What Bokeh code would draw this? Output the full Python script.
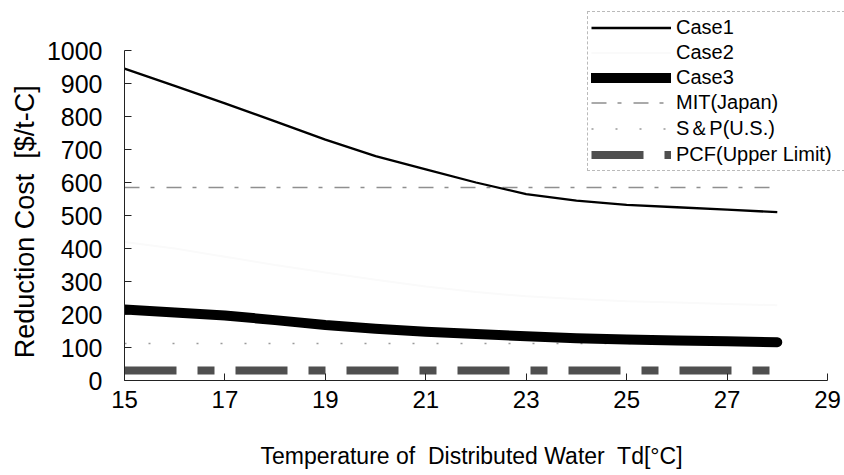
from bokeh.plotting import figure
from bokeh.models import Range1d, FixedTicker, Legend, LegendItem, ColumnDataSource
from bokeh.embed import file_html
from bokeh.resources import INLINE

# ---- data ----
temps = [15, 16, 17, 18, 19, 20, 21, 22, 23, 24, 25, 26, 27, 28]
case1 = [945, 893, 840, 785, 730, 680, 640, 600, 565, 545, 532, 525, 518, 510]
case2 = [420, 400, 375, 350, 327, 305, 285, 268, 255, 247, 240, 236, 232, 228]
case3 = [215, 206, 197, 183, 168, 157, 148, 141, 134, 128, 124, 121, 119, 116]
mit_japan = [585] * len(temps)
sp_us = [112] * len(temps)
pcf_upper = [30] * len(temps)

x_ticks = [15, 17, 19, 21, 23, 25, 27, 29]
y_ticks = [0, 100, 200, 300, 400, 500, 600, 700, 800, 900, 1000]

FONT = "Liberation Sans"

# frame is extended above and to the right so the legend is not clipped;
# the axis lines are limited to the tick range with `bounds`
FRAME_TOP, FRAME_BOTTOM, FRAME_LEFT, FRAME_RIGHT = 10, 380, 124, 844
AXIS_TOP_PX, AXIS_RIGHT_PX = 50, 827
y_end = y_ticks[-1] * (FRAME_BOTTOM - FRAME_TOP) / (FRAME_BOTTOM - AXIS_TOP_PX)
x_end = x_ticks[0] + (x_ticks[-1] - x_ticks[0]) * (FRAME_RIGHT - FRAME_LEFT) / (AXIS_RIGHT_PX - FRAME_LEFT)

p = figure(width=844, height=475, output_backend="svg", toolbar_location=None,
           x_range=Range1d(x_ticks[0], x_end), y_range=Range1d(y_ticks[0], y_end),
           min_border_left=FRAME_LEFT, min_border_right=0, min_border_top=FRAME_TOP,
           min_border_bottom=475 - FRAME_BOTTOM)
p.outline_line_color = None
p.grid.visible = False
p.background_fill_color = "white"
p.border_fill_color = "white"

src = ColumnDataSource(dict(t=temps, c1=case1, c2=case2, c3=case3,
                            mit=mit_japan, sp=sp_us, pcf=pcf_upper))

r_pcf = p.line("t", "pcf", source=src, line_color="#4f4f4f", line_width=8,
               line_dash="52 21 17 21", line_cap="butt")
r_sp = p.line("t", "sp", source=src, line_color="#9a9a9a", line_width=1.5,
              line_dash="2 22")
r_mit = p.line("t", "mit", source=src, line_color="#8f8f8f", line_width=1.6,
               line_dash="15 11 4 12")
r_c2 = p.line("t", "c2", source=src, line_color="#fafafa", line_width=2)
r_c3 = p.line("t", "c3", source=src, line_color="black", line_width=10,
              line_cap="round", line_join="round")
r_c1 = p.line("t", "c1", source=src, line_color="black", line_width=2.3)

# axes
for ax in (p.xaxis[0], p.yaxis[0]):
    ax.major_tick_in = 7
    ax.major_tick_out = 0
    ax.minor_tick_line_color = None
    ax.axis_line_color = "#222222"
    ax.major_tick_line_color = "#222222"
    ax.major_label_text_font = FONT
    ax.major_label_text_color = "black"
    ax.axis_label_text_font = FONT
    ax.axis_label_text_font_style = "normal"
    ax.axis_label_text_color = "black"

p.xaxis.bounds = (x_ticks[0], x_ticks[-1])
p.yaxis.bounds = (y_ticks[0], y_ticks[-1])
p.xaxis.ticker = FixedTicker(ticks=x_ticks)
p.yaxis.ticker = FixedTicker(ticks=y_ticks)
p.xaxis.major_label_text_font_size = "24px"
p.yaxis.major_label_text_font_size = "25px"
p.xaxis.major_label_standoff = 10
p.yaxis.major_label_standoff = 22
# trailing no-break spaces keep the labels centred on the axis lines, not the larger frame
p.xaxis.axis_label = "Temperature of\u00a0 Distributed Water\u00a0 Td[\u00b0C]" + "\u00a0" * 4
p.yaxis.axis_label = "Reduction Cost\u00a0 [$/t-C]" + "\u00a0" * 7
p.xaxis.axis_label_text_font_size = "23px"
p.yaxis.axis_label_text_font_size = "27px"
p.xaxis.axis_label_standoff = 32
p.yaxis.axis_label_standoff = 4

legend = Legend(items=[
    LegendItem(label="Case1", renderers=[r_c1]),
    LegendItem(label="Case2", renderers=[r_c2]),
    LegendItem(label="Case3", renderers=[r_c3]),
    LegendItem(label="MIT(Japan)", renderers=[r_mit]),
    LegendItem(label="S\uff06P(U.S.)", renderers=[r_sp]),
    LegendItem(label="PCF(Upper Limit)", renderers=[r_pcf]),
], location=(463, 209))
legend.padding = 3
legend.spacing = 0
legend.glyph_width = 80
legend.glyph_height = 25
legend.label_height = 25
legend.label_width = 175
legend.label_standoff = 5
legend.label_text_font = FONT
legend.label_text_font_size = "20px"
legend.label_text_color = "black"
legend.border_line_color = "#777777"
legend.border_line_dash = "3 3"
legend.border_line_width = 1
legend.background_fill_color = "white"
legend.background_fill_alpha = 1.0
legend.margin = 0
p.add_layout(legend, "center")

open("out.html", "w").write(file_html(p, INLINE))
